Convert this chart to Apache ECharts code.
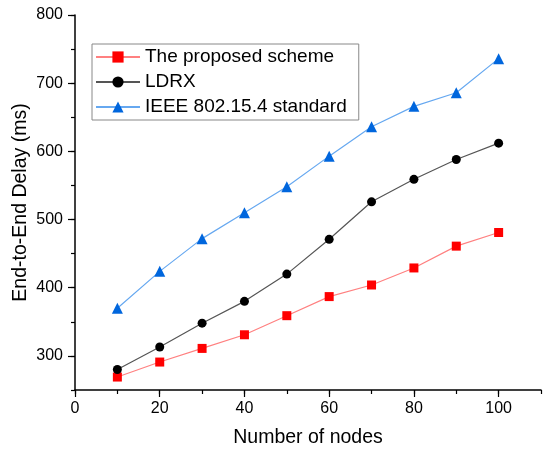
<!DOCTYPE html>
<html>
<head>
<meta charset="utf-8">
<script src="https://cdn.jsdelivr.net/npm/echarts@6/dist/echarts.min.js"></script>
<style>
  html, body { margin: 0; padding: 0; background: #fff; }
  #main { width: 550px; height: 457px; }
</style>
</head>
<body>
<div id="main"></div>
<script>
// number of nodes
var nodes = [10, 20, 30, 40, 50, 60, 70, 80, 90, 100];
// end-to-end delay (ms)
var proposed = [269, 291, 311, 331, 359, 387, 404, 429, 461, 481];
var ldrx = [280, 313, 348, 380, 420, 471, 526, 559, 588, 612];
var ieee = [370, 424, 472, 510, 548, 593, 636, 666, 686, 736];

var seriesNames = ['The proposed scheme', 'LDRX', 'IEEE 802.15.4 standard'];

function pairs(ys) {
    var out = [];
    for (var i = 0; i < nodes.length; i++) {
        out.push([nodes[i], ys[i]]);
    }
    return out;
}

var font = 'Liberation Sans, Arial, sans-serif';

var option = {
    backgroundColor: '#fff',
    animation: false,
    grid: {
        left: 75,
        right: 9,
        top: 15,
        bottom: 67
    },
    legend: {
        left: 92,
        top: 44,
        orient: 'vertical',
        data: seriesNames,
        itemWidth: 44,
        itemHeight: 14,
        itemGap: 5,
        padding: [3, 12, 3, 3],
        borderColor: '#888',
        borderWidth: 1,
        textStyle: {
            fontFamily: font,
            fontSize: 19,
            color: '#000',
            lineHeight: 20
        }
    },
    xAxis: [
        {
            type: 'value',
            min: 0,
            max: 110,
            interval: 20,
            name: 'Number of nodes',
            nameLocation: 'middle',
            nameGap: 38,
            nameTextStyle: { fontFamily: font, fontSize: 19.5, color: '#000' },
            axisLine: { show: true, lineStyle: { color: '#000', width: 1.5 } },
            axisTick: { show: true, length: 7, lineStyle: { color: '#000', width: 1.2 } },
            axisLabel: {
                fontFamily: font, fontSize: 16, color: '#000', margin: 11,
                showMaxLabel: false
            },
            splitLine: { show: false }
        },
        {
            // minor ticks every 10
            type: 'value',
            position: 'bottom',
            min: 0,
            max: 110,
            interval: 10,
            axisLine: { show: false },
            axisTick: { show: true, length: 4, lineStyle: { color: '#000', width: 1.2 } },
            axisLabel: { show: false },
            splitLine: { show: false }
        }
    ],
    yAxis: [
        {
            type: 'value',
            min: 250,
            max: 800,
            splitNumber: 5,
            name: 'End-to-End Delay (ms)',
            nameLocation: 'middle',
            nameGap: 44,
            nameMoveOverlap: false,
            nameTextStyle: { fontFamily: font, fontSize: 19.5, color: '#000' },
            axisLine: { show: true, lineStyle: { color: '#000', width: 1.5 } },
            axisTick: { show: true, length: 7, lineStyle: { color: '#000', width: 1.2 } },
            axisLabel: {
                fontFamily: font, fontSize: 16, color: '#000', margin: 12,
                showMinLabel: false
            },
            splitLine: { show: false }
        },
        {
            // minor ticks every 50
            type: 'value',
            position: 'left',
            min: 250,
            max: 800,
            interval: 50,
            axisLine: { show: false },
            axisTick: { show: true, length: 4, lineStyle: { color: '#000', width: 1.2 } },
            axisLabel: { show: false },
            splitLine: { show: false }
        }
    ],
    series: [
        {
            name: seriesNames[0],
            type: 'line',
            data: pairs(proposed),
            symbol: 'rect',
            symbolSize: 9,
            lineStyle: { color: '#ff8080', width: 1.2 },
            itemStyle: { color: '#ff0000' }
        },
        {
            name: seriesNames[1],
            type: 'line',
            data: pairs(ldrx),
            symbol: 'circle',
            symbolSize: 9,
            lineStyle: { color: '#555', width: 1.2 },
            itemStyle: { color: '#000' }
        },
        {
            name: seriesNames[2],
            type: 'line',
            data: pairs(ieee),
            symbol: 'triangle',
            symbolSize: 11,
            lineStyle: { color: '#66a8f0', width: 1.2 },
            itemStyle: { color: '#0066dd' }
        }
    ]
};

var chart = echarts.init(document.getElementById('main'));
chart.setOption(option);
</script>
</body>
</html>
